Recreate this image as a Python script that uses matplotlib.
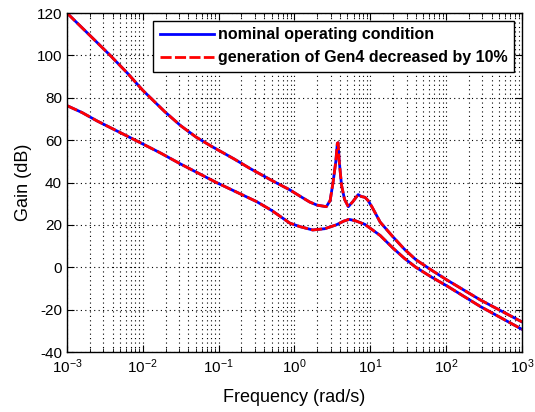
import numpy as np
import matplotlib.pyplot as plt

plt.rcParams['font.family'] = ['Liberation Sans', 'DejaVu Sans']
plt.rcParams['mathtext.fontset'] = 'custom'
plt.rcParams['mathtext.rm'] = 'Liberation Sans'
plt.rcParams['mathtext.it'] = 'Liberation Sans'
plt.rcParams['axes.unicode_minus'] = False

# log10(omega) and gain in dB
upper_logw = [-3.0, -2.7, -2.43, -2.2, -2.0, -1.71, -1.5, -1.3, -1.1, -0.8, -0.59, -0.3,
              -0.06, 0.07, 0.2, 0.3, 0.42, 0.47, 0.51, 0.545, 0.565, 0.575, 0.59, 0.62,
              0.66, 0.71, 0.77, 0.84, 0.88, 0.93, 0.97, 1.02, 1.13, 1.3, 1.45, 1.6,
              1.8, 2.01, 2.45, 3.0]
upper_gain = [120, 109.5, 100, 91.5, 83.5, 73.4, 66.8, 61.5, 57.2, 51.2, 46.7, 41,
              36.5, 33.6, 30.8, 29.3, 28.6, 31.5, 40.4, 50, 58.5, 58.8, 50, 38.8,
              32, 28.6, 31, 34.3, 33.4, 33, 31.5, 28.6, 21.3, 14.3, 8.5, 3.6,
              -1.2, -6, -15.4, -25.8]

lower_logw = [-3.0, -2.8, -2.6, -2.1, -1.77, -1.5, -1.03, -0.5, -0.3, -0.06, 0.07, 0.24,
              0.4, 0.55, 0.65, 0.72, 0.8, 0.93, 1.13, 1.3, 1.45, 1.6, 1.8, 2.01, 2.45, 3.0]
lower_gain = [76.3, 73, 69, 60, 54, 48.7, 40, 31, 26.8, 20.8, 19.2, 17.6,
              18.2, 20, 21.8, 22.6, 22, 20.2, 15, 9, 4.2, 0, -4.5, -8.8, -18.5, -29.3]

w_up = 10 ** np.array(upper_logw)
w_lo = 10 ** np.array(lower_logw)

fig = plt.figure(figsize=(5.35, 4.12), dpi=100)
ax = fig.add_axes([0.1252, 0.1456, 0.8505, 0.8228])

ax.semilogx(w_up, upper_gain, color='#0000ff', lw=2, label='nominal operating condition')
ax.semilogx(w_lo, lower_gain, color='#0000ff', lw=2)
ax.semilogx(w_up, upper_gain, color='#ff0000', lw=2, linestyle=(0, (4, 1.2)),
            label='generation of Gen4 decreased by 10%')
ax.semilogx(w_lo, lower_gain, color='#ff0000', lw=2, linestyle=(0, (4, 1.2)))

ax.set_xlim(1e-3, 1e3)
ax.set_ylim(-40, 120)
ax.set_yticks(np.arange(-40, 121, 20))

ax.grid(which='major', linestyle=(0, (1, 3)), color='k', lw=0.8)
ax.grid(which='minor', axis='x', linestyle=(0, (1, 3)), color='k', lw=0.8)

ax.tick_params(which='both', direction='in', top=True, right=True, labelsize=11)
ax.tick_params(which='major', length=5)
ax.tick_params(which='minor', length=3)
ax.tick_params(axis='x', pad=4)
for s in ax.spines.values():
    s.set_linewidth(1)

ax.set_xlabel('Frequency (rad/s)', fontsize=13, labelpad=9)
ax.set_ylabel('Gain (dB)', fontsize=13, labelpad=3)

leg = ax.legend(loc='upper right', prop={'weight': 'bold', 'size': 11.5}, handlelength=3.4,
                handletextpad=0.25, labelspacing=0.5, borderpad=0.4,
                fancybox=False, framealpha=1, edgecolor='k', borderaxespad=0.5)
leg.get_frame().set_linewidth(1)

fig.savefig('out.png')
